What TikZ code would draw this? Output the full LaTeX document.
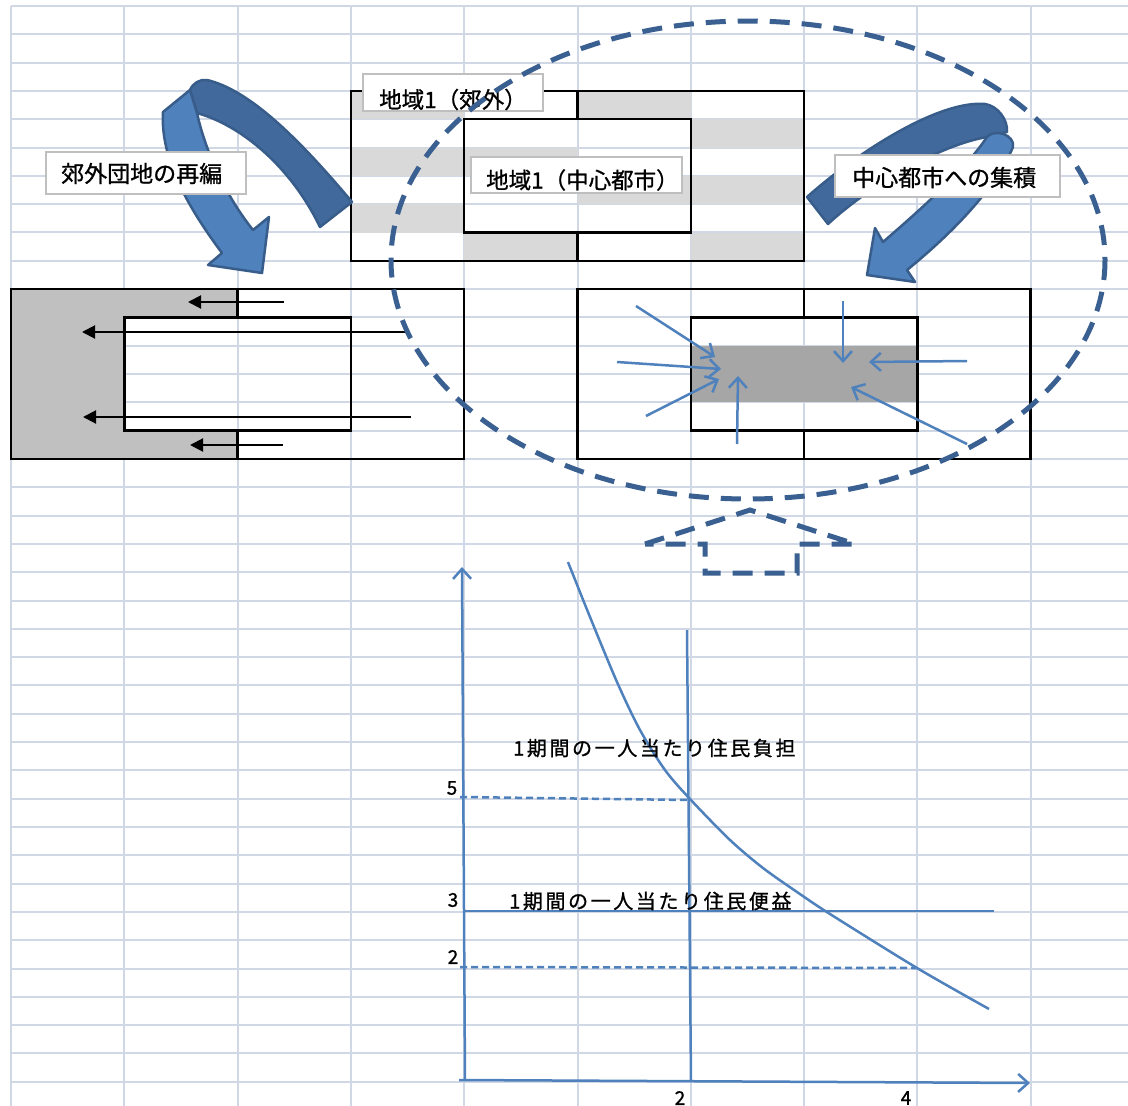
\documentclass[tikz,border=0pt]{standalone}
\usepackage{fontspec}
\setmainfont{Noto Sans CJK JP}[FakeBold=1.0]
\usetikzlibrary{arrows.meta}
\definecolor{gridc}{HTML}{D0D7E5}
\definecolor{cellg}{HTML}{D9D9D9}
\definecolor{leftg}{HTML}{C0C0C0}
\definecolor{rightg}{HTML}{A6A6A6}
\definecolor{bluel}{HTML}{4F81BD}
\definecolor{blued}{HTML}{41699B}
\definecolor{blueo}{HTML}{385D8A}
\definecolor{dashc}{HTML}{3A6091}
\definecolor{lblb}{HTML}{BFBFBF}
\begin{document}
\begin{tikzpicture}[x=1pt,y=-1pt,
  gridline/.style={draw=gridc,line width=2},
  blk/.style={draw=black,line width=2.5},
  blkarrow/.style={draw=black,line width=2,-{Triangle[length=13,width=13]}},
  bluearrow/.style={draw=bluel,line width=2.5,-{Straight Barb[length=10,width=18,line width=2.5]}},
  ribdark/.style={fill=blued,draw=blueo,line width=2.5,line join=round},
  riblight/.style={fill=bluel,draw=blueo,line width=2.5,line join=round},
  bigdash/.style={draw=dashc,line width=5,dash pattern=on 20 off 12},
  lblbox/.style={draw=lblb,fill=white,line width=2.5,inner sep=0},
  lbltxt/.style={inner sep=0,anchor=west},
  gline/.style={draw=bluel,line width=2.5},
  gdash/.style={draw=bluel,line width=2.5,dash pattern=on 7 off 4},
  gaxis/.style={draw=bluel,line width=2.5,-{Straight Barb[length=10,width=18,line width=2.5]}},
  num/.style={inner sep=0,font=\fontsize{19}{22}\selectfont}
]
\useasboundingbox (0,0) rectangle (1128,1106);
\fill[white] (0,0) rectangle (1128,1106);
% grid
\foreach \j in {0,...,9} \draw[gridline] ({11+113.3*\j},6) -- ({11+113.3*\j},1106);
\foreach \k in {0,...,38} \draw[gridline] (11,{6+28.31*\k}) -- (1128,{6+28.31*\k});

% ---------- top rectangle (region 1) ----------
\fill[cellg] (351,90.9) rectangle (464.2,119.2);
\fill[cellg] (351,147.5) rectangle (464.2,175.8);
\fill[cellg] (351,204.2) rectangle (464.2,232.5);
\fill[cellg] (464.2,147.5) rectangle (577.5,175.8);
\fill[cellg] (464.2,232.5) rectangle (577.5,260.8);
\fill[cellg] (577.5,90.9) rectangle (690.8,119.2);
\fill[cellg] (577.5,175.8) rectangle (690.8,204.2);
\fill[cellg] (690.8,119.2) rectangle (804.1,147.5);
\fill[cellg] (690.8,175.8) rectangle (804.1,204.2);
\fill[cellg] (690.8,232.5) rectangle (804.1,260.8);
\draw[blk] (351,90.9) rectangle (804.1,260.8);
\draw[blk] (464.2,119.2) rectangle (690.8,232.5);
\draw[blk] (577.5,90.9) -- (577.5,119.2);
\draw[blk] (577.5,232.5) -- (577.5,260.8);

% ---------- left middle rectangle ----------
\fill[leftg] (11,289.1) -- (237.6,289.1) -- (237.6,317.4) -- (124.3,317.4) -- (124.3,430.7) -- (237.6,430.7) -- (237.6,459) -- (11,459) -- cycle;
\draw[blk] (11,289.1) rectangle (464.2,459);
\draw[blk] (124.3,317.4) rectangle (351,430.7);
\draw[blk] (237.6,289.1) -- (237.6,317.4);
\draw[blk] (237.6,430.7) -- (237.6,459);
\coordinate (la1s) at (284,302); \coordinate (la1e) at (188,302);
\coordinate (la2s) at (405,332); \coordinate (la2e) at (82,332);
\coordinate (la3s) at (411,417); \coordinate (la3e) at (83,417);
\coordinate (la4s) at (283,445); \coordinate (la4e) at (190,445);
\draw[blkarrow] (la1s) -- (la1e);
\draw[blkarrow] (la2s) -- (la2e);
\draw[blkarrow] (la3s) -- (la3e);
\draw[blkarrow] (la4s) -- (la4e);

% ---------- right middle rectangle ----------
\fill[rightg] (690.8,345.7) rectangle (917.4,402.4);
\draw[blk] (577.5,289.1) rectangle (1030.7,459);
\draw[blk] (690.8,317.4) rectangle (917.4,430.7);
\draw[blk] (804.1,289.1) -- (804.1,317.4);
\draw[blk] (804.1,430.7) -- (804.1,459);
\coordinate (ba1s) at (636,306); \coordinate (ba1e) at (715,357);
\coordinate (ba2s) at (617,362); \coordinate (ba2e) at (721,369);
\coordinate (ba3s) at (646,416); \coordinate (ba3e) at (719,379);
\coordinate (ba4s) at (737,444); \coordinate (ba4e) at (738,376);
\coordinate (ba5s) at (843,301); \coordinate (ba5e) at (843,363);
\coordinate (ba6s) at (967,361); \coordinate (ba6e) at (869,362);
\coordinate (ba7s) at (967,444); \coordinate (ba7e) at (851,387);
\foreach \i in {1,...,7} \draw[bluearrow] (ba\i s) -- (ba\i e);

% ---------- curved ribbon arrows ----------
\filldraw[ribdark] (352,202) .. controls (300,140) and (250,90) .. (207,80)
  .. controls (200,79) and (193,83) .. (190,90) -- (197,113)
  .. controls (240,125) and (290,165) .. (320,227) -- cycle;
\filldraw[riblight] (163,112) -- (190,90) -- (197,113)
  .. controls (205,150) and (225,195) .. (253,230) -- (269,217) -- (262,273) -- (208,265) -- (222,253)
  .. controls (190,210) and (160,160) .. (163,112) -- cycle;

\filldraw[ribdark] (807,197) .. controls (860,150) and (940,100) .. (985,104)
  .. controls (998,106) and (1008,120) .. (1007,132) -- (987,137)
  .. controls (940,145) and (870,185) .. (828,224) -- cycle;
\filldraw[riblight] (987,137) .. controls (995,128) and (1015,135) .. (1013,147)
  .. controls (995,190) and (950,235) .. (907,270) -- (915,282) -- (867,275) -- (875,228) -- (883,242)
  .. controls (920,210) and (965,170) .. (987,137) -- cycle;

% ---------- labels ----------
\node[lblbox,minimum width=180,minimum height=37] (b1) at (453,92.5) {};
\node[lbltxt,font=\fontsize{22.5}{26}\selectfont] (t1) at (379,99.5) {地域1（郊外）};
\node[lblbox,minimum width=211,minimum height=36] (b2) at (576.5,175) {};
\node[lbltxt,font=\fontsize{22.5}{26}\selectfont] (t2) at (486,180) {地域1（中心都市）};
\node[lblbox,minimum width=200,minimum height=42] (b3) at (146,173) {};
\node[lbltxt,font=\fontsize{23}{27}\selectfont] (t3) at (61,173.5) {郊外団地の再編};
\node[lblbox,minimum width=225,minimum height=42] (b4) at (947.5,176) {};
\node[lbltxt,font=\fontsize{23}{27}\selectfont] (t4) at (852,177.5) {中心都市への集積};

% ---------- dashed ellipse and dashed arrow ----------
\draw[bigdash] (748,260) ellipse [x radius=357, y radius=239];
\draw[bigdash] (645,544) -- (750,510) -- (855,544) -- (797,544) -- (797,573) -- (705,573) -- (705,544) -- cycle;

% ---------- graph ----------
\coordinate (ybot) at (465,1081); \coordinate (ytop) at (462,567);
\coordinate (xleft) at (459,1080); \coordinate (xright) at (1030,1083);
\coordinate (v2top) at (687,630); \coordinate (v2bot) at (691,1082);
\coordinate (h3l) at (464,911); \coordinate (h3r) at (994,911);
\coordinate (d5l) at (460,797); \coordinate (d5r) at (690,800);
\coordinate (d2l) at (460,967); \coordinate (d2r) at (917,968);
\draw[gaxis] (ybot) -- (ytop);
\draw[gaxis] (xleft) -- (xright);
\draw[gline] (v2top) -- (v2bot);
\draw[gline] (h3l) -- (h3r);
\draw[gdash] (d5l) -- (d5r);
\draw[gdash] (d2l) -- (d2r);
\draw[gline] plot[smooth,tension=0.5] coordinates {(568,562) (590,617) (617,682) (640,730) (665,770) (690,799) (730,840) (763,868) (797,892) (830,914) (917,968) (989,1009)};

\node[lbltxt,font=\fontsize{20}{24}\selectfont\addfontfeature{LetterSpace=13}] (burden) at (513,748) {1期間の一人当たり住民負担};
\node[lbltxt,font=\fontsize{20}{24}\selectfont\addfontfeature{LetterSpace=13}] (benefit) at (509,901) {1期間の一人当たり住民便益};
\node[num] (n5) at (452,788) {5};
\node[num] (n3) at (453,900) {3};
\node[num] (n2y) at (453,957) {2};
\node[num] (n2x) at (680,1098) {2};
\node[num] (n4x) at (906,1098) {4};
\end{tikzpicture}
\end{document}
